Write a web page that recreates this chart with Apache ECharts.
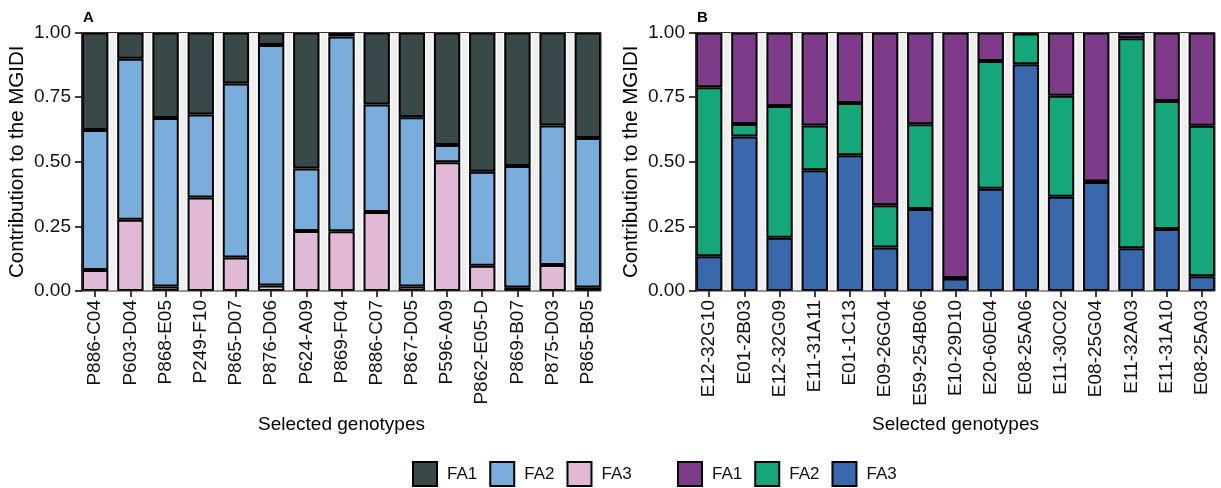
<!DOCTYPE html>
<html>
<head>
<meta charset="utf-8">
<script src="https://cdn.jsdelivr.net/npm/echarts@6/dist/echarts.min.js"></script>
<style>
  html, body { margin: 0; padding: 0; background: #fff; }
  #chart { width: 1221px; height: 488px; }
</style>
</head>
<body>
<div id="chart"></div>
<script>
// Panel A genotypes and factor contributions (stacked bottom-up: FA3, FA2, FA1)
const genotypesA = ['P886-C04', 'P603-D04', 'P868-E05', 'P249-F10', 'P865-D07', 'P876-D06', 'P624-A09',
  'P869-F04', 'P886-C07', 'P867-D05', 'P596-A09', 'P862-E05-D', 'P869-B07', 'P875-D03', 'P865-B05'];
const fa3A = [0.081, 0.276, 0.017, 0.362, 0.130, 0.021, 0.232, 0.231, 0.306, 0.017, 0.498, 0.098, 0.014, 0.101, 0.014];
const fa2A = [0.542, 0.622, 0.652, 0.321, 0.673, 0.931, 0.242, 0.754, 0.415, 0.655, 0.067, 0.363, 0.470, 0.539, 0.578];
const fa1A = [0.377, 0.102, 0.331, 0.317, 0.197, 0.048, 0.526, 0.015, 0.279, 0.328, 0.435, 0.539, 0.516, 0.360, 0.408];

// Panel B genotypes and factor contributions
const genotypesB = ['E12-32G10', 'E01-2B03', 'E12-32G09', 'E11-31A11', 'E01-1C13', 'E09-26G04', 'E59-254B06',
  'E10-29D10', 'E20-60E04', 'E08-25A06', 'E11-30C02', 'E08-25G04', 'E11-32A03', 'E11-31A10', 'E08-25A03'];
const fa3B = [0.134, 0.598, 0.206, 0.467, 0.525, 0.168, 0.317, 0.048, 0.396, 0.877, 0.365, 0.422, 0.165, 0.240, 0.057];
const fa2B = [0.654, 0.048, 0.510, 0.173, 0.202, 0.164, 0.328, 0.002, 0.494, 0.119, 0.390, 0.002, 0.813, 0.495, 0.582];
const fa1B = [0.212, 0.354, 0.284, 0.360, 0.273, 0.668, 0.355, 0.950, 0.110, 0.004, 0.245, 0.576, 0.022, 0.265, 0.361];

const yTicks = [0, 0.25, 0.5, 0.75, 1];
const factorNames = ['FA1', 'FA2', 'FA3'];
const colorsA = { FA1: '#394849', FA2: '#7aaddc', FA3: '#e1b9d6' };
const colorsB = { FA1: '#7e3b8a', FA2: '#15a77b', FA3: '#3a68ad' };

// Layout
const FONT = '"Liberation Sans", Arial, Helvetica, sans-serif';
const PLOT_TOP = 32.5;
const PLOT_BOTTOM = 291;
const BAR_FRAC = 0.75;
const panels = [
  { key: 'A', x0: 82, x1: 601, cats: genotypesA, fa1: fa1A, fa2: fa2A, fa3: fa3A, colors: colorsA },
  { key: 'B', x0: 696, x1: 1215, cats: genotypesB, fa1: fa1B, fa2: fa2B, fa3: fa3B, colors: colorsB }
];

const grids = [], xAxes = [], yAxes = [], series = [], titles = [], legends = [], graphics = [];

panels.forEach((p, i) => {
  const n = p.cats.length;
  const pitch = (p.x1 - p.x0) / (n - 1 + BAR_FRAC);
  const gridLeft = p.x0 - pitch * (1 - BAR_FRAC) / 2;
  grids.push({
    left: gridLeft, top: PLOT_TOP, width: pitch * n, height: PLOT_BOTTOM - PLOT_TOP,
    containLabel: false, outerBoundsMode: 'none'
  });
  xAxes.push({
    type: 'category', gridIndex: i, data: p.cats, boundaryGap: true,
    name: 'Selected genotypes', nameLocation: 'middle', nameGap: 124,
    nameTextStyle: { fontFamily: FONT, fontSize: 19, color: '#000' },
    axisLine: { show: false },
    axisTick: { show: true, alignWithLabel: true, interval: 0, length: 6, lineStyle: { color: '#000', width: 1.5 } },
    axisLabel: { interval: 0, rotate: 90, margin: 9, fontFamily: FONT, fontSize: 19, color: '#111' },
    splitLine: { show: false }
  });
  yAxes.push({
    type: 'value', gridIndex: i, min: 0, max: 1, interval: 0.25,
    offset: -(p.x0 - gridLeft),
    name: 'Contribution to the MGIDI', nameLocation: 'middle', nameGap: 54,
    nameTextStyle: { fontFamily: FONT, fontSize: 20.5, color: '#000' },
    axisLine: { show: true, lineStyle: { color: '#000', width: 1.5 } },
    axisTick: { show: true, length: 7, lineStyle: { color: '#000', width: 1.5 } },
    axisLabel: {
      margin: 11, fontFamily: FONT, fontSize: 19, color: '#111',
      formatter: v => (yTicks.includes(v) ? v.toFixed(2) : '')
    },
    splitLine: { show: false }
  });

  // light strips between neighbouring bars
  series.push({
    type: 'custom', name: 'gaps' + p.key, xAxisIndex: i, yAxisIndex: i, z: 1, silent: true,
    data: p.cats.slice(0, -1).map((_, k) => [k]),
    encode: { x: 0 },
    renderItem: (params, api) => {
      const base = api.coord([api.value(0), 0]);
      const topPt = api.coord([api.value(0), 1]);
      const band = api.size([1, 0])[0];
      const cx = base[0] + band / 2;
      return {
        type: 'rect',
        shape: { x: cx - 3, y: topPt[1], width: 6, height: base[1] - topPt[1] },
        style: { fill: '#efefef' }
      };
    }
  });

  const stackOrder = [['FA3', p.fa3], ['FA2', p.fa2], ['FA1', p.fa1]];
  stackOrder.forEach(([f, vals]) => {
    series.push({
      type: 'bar', name: p.key + ':' + f, xAxisIndex: i, yAxisIndex: i,
      stack: 'total' + p.key, barWidth: (BAR_FRAC * 100) + '%', z: 2,
      data: vals,
      itemStyle: { color: p.colors[f], borderColor: '#000', borderWidth: 2 },
      emphasis: { disabled: true }
    });
  });

  titles.push({
    text: p.key, left: p.x0 + 1, top: 10, padding: 0,
    textStyle: { fontFamily: FONT, fontSize: 15, fontWeight: 'bold', color: '#000' }
  });

  // panel frame
  graphics.push({
    type: 'rect', z: 10, silent: true,
    shape: { x: p.x0, y: PLOT_TOP, width: p.x1 - p.x0, height: PLOT_BOTTOM - PLOT_TOP },
    style: { fill: 'none', stroke: '#333', lineWidth: 1 }
  });
});

const legendBase = {
  orient: 'horizontal', itemWidth: 24, itemHeight: 24, itemGap: 12, padding: 0,
  icon: 'rect', top: 461,
  formatter: name => name.split(':')[1],
  itemStyle: { borderColor: '#000', borderWidth: 2 },
  textStyle: { fontFamily: FONT, fontSize: 17, color: '#111', padding: [0, 0, 0, 5] },
  selectedMode: false
};
legends.push(
  Object.assign({}, legendBase, { left: 412, data: factorNames.map(f => 'A:' + f) }),
  Object.assign({}, legendBase, { left: 677, data: factorNames.map(f => 'B:' + f) })
);

const chart = echarts.init(document.getElementById('chart'), null, { renderer: 'canvas' });
chart.setOption({
  animation: false,
  backgroundColor: '#fff',
  textStyle: { fontFamily: FONT },
  title: titles,
  legend: legends,
  grid: grids,
  xAxis: xAxes,
  yAxis: yAxes,
  series: series,
  graphic: graphics
});
</script>
</body>
</html>
